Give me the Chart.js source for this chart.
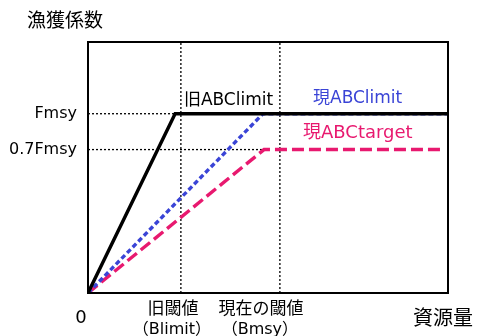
<!DOCTYPE html>
<html>
<head>
<meta charset="utf-8">
<script src="https://cdn.jsdelivr.net/npm/chart.js@4.4.1/dist/chart.umd.min.js"></script>
<style>
  html, body { margin: 0; padding: 0; background: #fff; }
  #wrap { width: 477px; height: 336px; }
</style>
</head>
<body>
<div id="wrap"><canvas id="chart"></canvas></div>
<script>
// resource level (x) and fishing coefficient (y)
const xMax = 100;
const yMax = 1.4;
const fmsy = 1.0;
const fmsy07 = 0.8;        // where the "0.7Fmsy" line sits in the picture
const bLimit = 25.8;       // old threshold
const bMsy = 53.3;         // current threshold

const oldLimitX = [0, 24.2, 100];
const oldLimitY = [0, fmsy, fmsy];
const newLimitX = [0, 48.6, 100];
const newLimitY = [0, fmsy, fmsy];
const newTargetX = [0, 48.9, 99];
const newTargetY = [0, fmsy07, fmsy07];

const yTickValues = [fmsy, fmsy07];
const yTickLabels = ['Fmsy', '0.7Fmsy'];

const BLUE = '#3a44d6';
const PINK = '#e8196f';
const FONT = '"DejaVu Sans", "Noto Sans CJK JP", sans-serif';

const pts = (xs, ys) => xs.map((x, i) => ({ x: x, y: ys[i] }));

const guide = (data) => ({
    data: data,
    borderColor: '#000',
    borderWidth: 1.3,
    borderDash: [2, 2],
    pointRadius: 0,
    order: 5
});

// Text labels and frame
const labelsPlugin = {
    id: 'labels',
    afterDraw(chart) {
        const { ctx, chartArea: a, scales: { x, y } } = chart;
        ctx.save();
        ctx.strokeStyle = '#000';
        ctx.lineWidth = 2;
        ctx.strokeRect(a.left, a.top, a.right - a.left, a.bottom - a.top);

        ctx.textBaseline = 'middle';
        ctx.fillStyle = '#000';
        ctx.font = '19px ' + FONT;
        ctx.textAlign = 'left';
        ctx.fillText('漁獲係数', 27, 22);

        ctx.font = '16px ' + FONT;
        ctx.textAlign = 'right';
        yTickValues.forEach((v, i) => ctx.fillText(yTickLabels[i], a.left - 11, y.getPixelForValue(v)));

        ctx.textAlign = 'center';
        ctx.font = '18px ' + FONT;
        ctx.fillText('0', x.getPixelForValue(0) - 7, 318);
        ctx.font = '17px ' + FONT;
        ctx.fillText('旧閾値', x.getPixelForValue(bLimit) - 8, 310);
        ctx.fillText('現在の閾値', x.getPixelForValue(bMsy) - 19, 310);
        ctx.font = '16px ' + FONT;
        ctx.fillText('（Blimit）', x.getPixelForValue(bLimit) - 9, 330);
        ctx.fillText('（Bmsy）', x.getPixelForValue(bMsy) - 20, 330);
        ctx.font = '20px ' + FONT;
        ctx.textAlign = 'left';
        ctx.fillText('資源量', 413, 320);

        ctx.font = '17px ' + FONT;
        ctx.fillText('旧ABClimit', x.getPixelForValue(bLimit) + 3, y.getPixelForValue(fmsy) - 13);
        ctx.fillStyle = BLUE;
        ctx.fillText('現ABClimit', 313, y.getPixelForValue(fmsy) - 15);
        ctx.fillStyle = PINK;
        ctx.font = '18px ' + FONT;
        ctx.fillText('現ABCtarget', 303, y.getPixelForValue(fmsy07) - 16);
        ctx.restore();
    }
};

new Chart(document.getElementById('chart'), {
    type: 'line',
    data: {
        datasets: [
            guide([{ x: bLimit, y: 0 }, { x: bLimit, y: yMax }]),
            guide([{ x: bMsy, y: 0 }, { x: bMsy, y: yMax }]),
            guide([{ x: 0, y: fmsy }, { x: oldLimitX[1], y: fmsy }]),
            guide([{ x: 0, y: fmsy07 }, { x: newTargetX[1], y: fmsy07 }]),
            {
                data: pts(newTargetX, newTargetY),
                borderColor: PINK,
                borderWidth: 3.4,
                borderDash: [12, 5],
                pointRadius: 0,
                order: 3
            },
            {
                data: pts(newLimitX, newLimitY),
                borderColor: BLUE,
                borderWidth: 3.4,
                borderDash: [5, 3],
                pointRadius: 0,
                order: 2
            },
            {
                data: pts(oldLimitX, oldLimitY),
                borderColor: '#000',
                borderWidth: 3.4,
                pointRadius: 0,
                order: 1
            }
        ]
    },
    options: {
        responsive: true,
        maintainAspectRatio: false,
        animation: false,
        layout: { padding: { left: 88, right: 29, top: 42, bottom: 43 } },
        plugins: { legend: { display: false }, tooltip: { enabled: false } },
        scales: {
            x: { type: 'linear', min: 0, max: xMax, display: false },
            y: { type: 'linear', min: 0, max: yMax, display: false }
        }
    },
    plugins: [labelsPlugin]
});
</script>
</body>
</html>
